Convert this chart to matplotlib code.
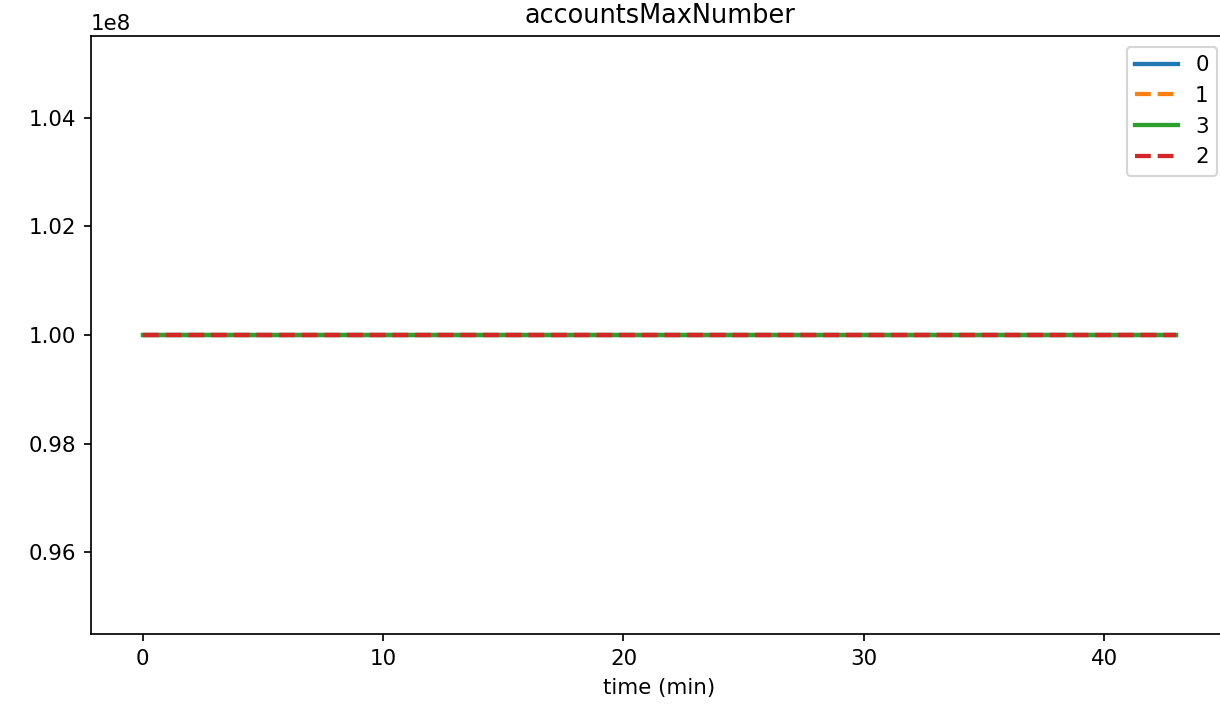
import matplotlib
matplotlib.use("Agg")
import matplotlib.pyplot as plt
import numpy as np

time_min = list(range(0, 44))
series_labels = ["0", "1", "3", "2"]
series_values = {
    "0": [100000000] * 44,
    "1": [100000000] * 44,
    "3": [100000000] * 44,
    "2": [100000000] * 44,
}
styles = {"0": "-", "1": "--", "3": "-", "2": "--"}

DPI = 154
fig = plt.figure(figsize=(1220 / DPI, 713 / DPI), dpi=DPI)
ax = fig.add_axes([91 / 1220, 1 - 634 / 713, (1228 - 91) / 1220, (634 - 36) / 713])
for lab in series_labels:
    ax.plot(time_min, series_values[lab], linestyle=styles[lab], linewidth=2, label=lab)
ax.set_title("accountsMaxNumber")
ax.set_xlabel("time (min)")
ax.legend(loc="upper right")
fig.savefig("out.png", dpi=DPI)
